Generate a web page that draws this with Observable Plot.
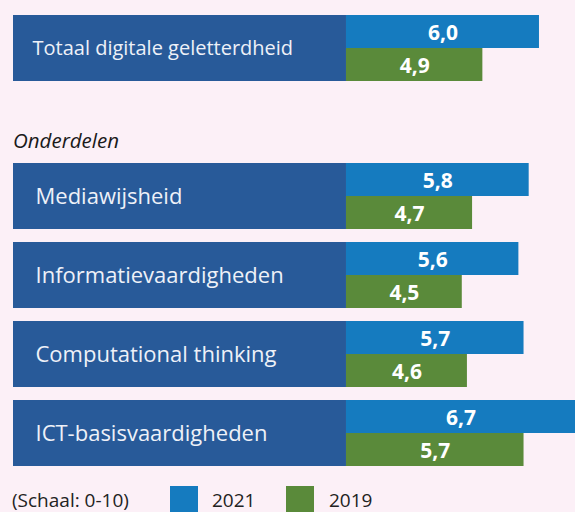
<!DOCTYPE html>
<html>
<head>
<meta charset="utf-8">
<script src="https://cdn.jsdelivr.net/npm/d3@7"></script>
<script src="https://cdn.jsdelivr.net/npm/@observablehq/plot@0.6"></script>
<style>
  html, body { margin: 0; padding: 0; background: #fcf0f7; width: 575px; height: 512px; overflow: hidden; font-family: "Open Sans", sans-serif; }
  #top svg, #parts svg { display: block; }
  #sub { height: 60px; box-sizing: border-box; padding: 36px 0 0 13px; font-style: italic; font-size: 20.5px; line-height: 18px; color: #1a1a1a; }
  #legend { position: relative; height: 36px; font-size: 19px; color: #222; }
  #legend span { position: absolute; line-height: 20px; top: 14px; white-space: nowrap; }
  #legend i { position: absolute; top: 10px; width: 28px; height: 30px; }
</style>
</head>
<body>
<div id="top"></div>
<div id="sub">Onderdelen</div>
<div id="parts"></div>
<div id="legend"></div>
<script>
// ---- data ----
const years = ["2021", "2019"];
const totalCategory = ["Totaal digitale geletterdheid"];
const total2021 = [6.0];
const total2019 = [4.9];
const categories = ["Mediawijsheid", "Informatievaardigheden", "Computational thinking", "ICT-basisvaardigheden"];
const values2021 = [5.8, 5.6, 5.7, 6.7];
const values2019 = [4.7, 4.5, 4.6, 5.7];
const legendNote = "(Schaal: 0-10)";

// ---- style ----
const colors = ["#157bbf", "#5a8a3a"];
const boxColor = "#285a99";
const X_BASE = 2.25;   // where bars begin on the value axis
const X_MAX = 6.7;
const BOX_FROM = -4.22; // left edge of the label box, same axis

function rowsFor(cats, a, b) {
  const out = [];
  cats.forEach((c, i) => {
    out.push({cat: c, year: years[0], value: a[i]});
    out.push({cat: c, year: years[1], value: b[i]});
  });
  return out;
}

function chart(cats, a, b, opts) {
  const rows = rowsFor(cats, a, b);
  return Plot.plot({
    width: 575,
    height: opts.height,
    marginLeft: 13,
    marginRight: 0,
    marginTop: opts.marginTop,
    marginBottom: opts.marginBottom,
    style: {background: "transparent", fontFamily: "Open Sans, sans-serif"},
    x: {domain: [BOX_FROM, X_MAX], axis: null},
    y: {domain: years, padding: 0, axis: null},
    fy: {domain: cats, paddingInner: opts.pad, paddingOuter: 0, axis: null},
    color: {domain: years, range: colors},
    marks: [
      Plot.barX(cats, {fy: d => d, x1: BOX_FROM, x2: X_BASE, fill: boxColor}),
      Plot.text(cats, {fy: d => d, x: BOX_FROM, dx: opts.labelDx, text: d => d, textAnchor: "start",
        fill: "#eef1f8", fontSize: opts.labelSize}),
      Plot.barX(rows, {fy: "cat", y: "year", x1: X_BASE, x2: "value", fill: "year"}),
      Plot.text(rows, {fy: "cat", y: "year", x: d => (X_BASE + d.value) / 2,
        text: d => d.value.toFixed(1).replace(".", ","), fill: "white",
        fontWeight: "bold", fontSize: 21, dy: 1})
    ]
  });
}

document.getElementById("top").append(
  chart(totalCategory, total2021, total2019,
    {height: 95, marginTop: 15, marginBottom: 14, pad: 0, labelDx: 19, labelSize: 20})
);
document.getElementById("parts").append(
  chart(categories, values2021, values2019,
    {height: 321, marginTop: 8, marginBottom: 10, pad: 0.168, labelDx: 22, labelSize: 22})
);

// legend
const lg = document.getElementById("legend");
const items = [
  ["span", legendNote, 12],
  ["i", colors[0], 170],
  ["span", years[0], 212],
  ["i", colors[1], 286],
  ["span", years[1], 329]
];
for (const [tag, v, left] of items) {
  const el = document.createElement(tag);
  el.style.left = left + "px";
  if (tag === "i") el.style.background = v; else el.textContent = v;
  lg.append(el);
}
</script>
</body>
</html>
